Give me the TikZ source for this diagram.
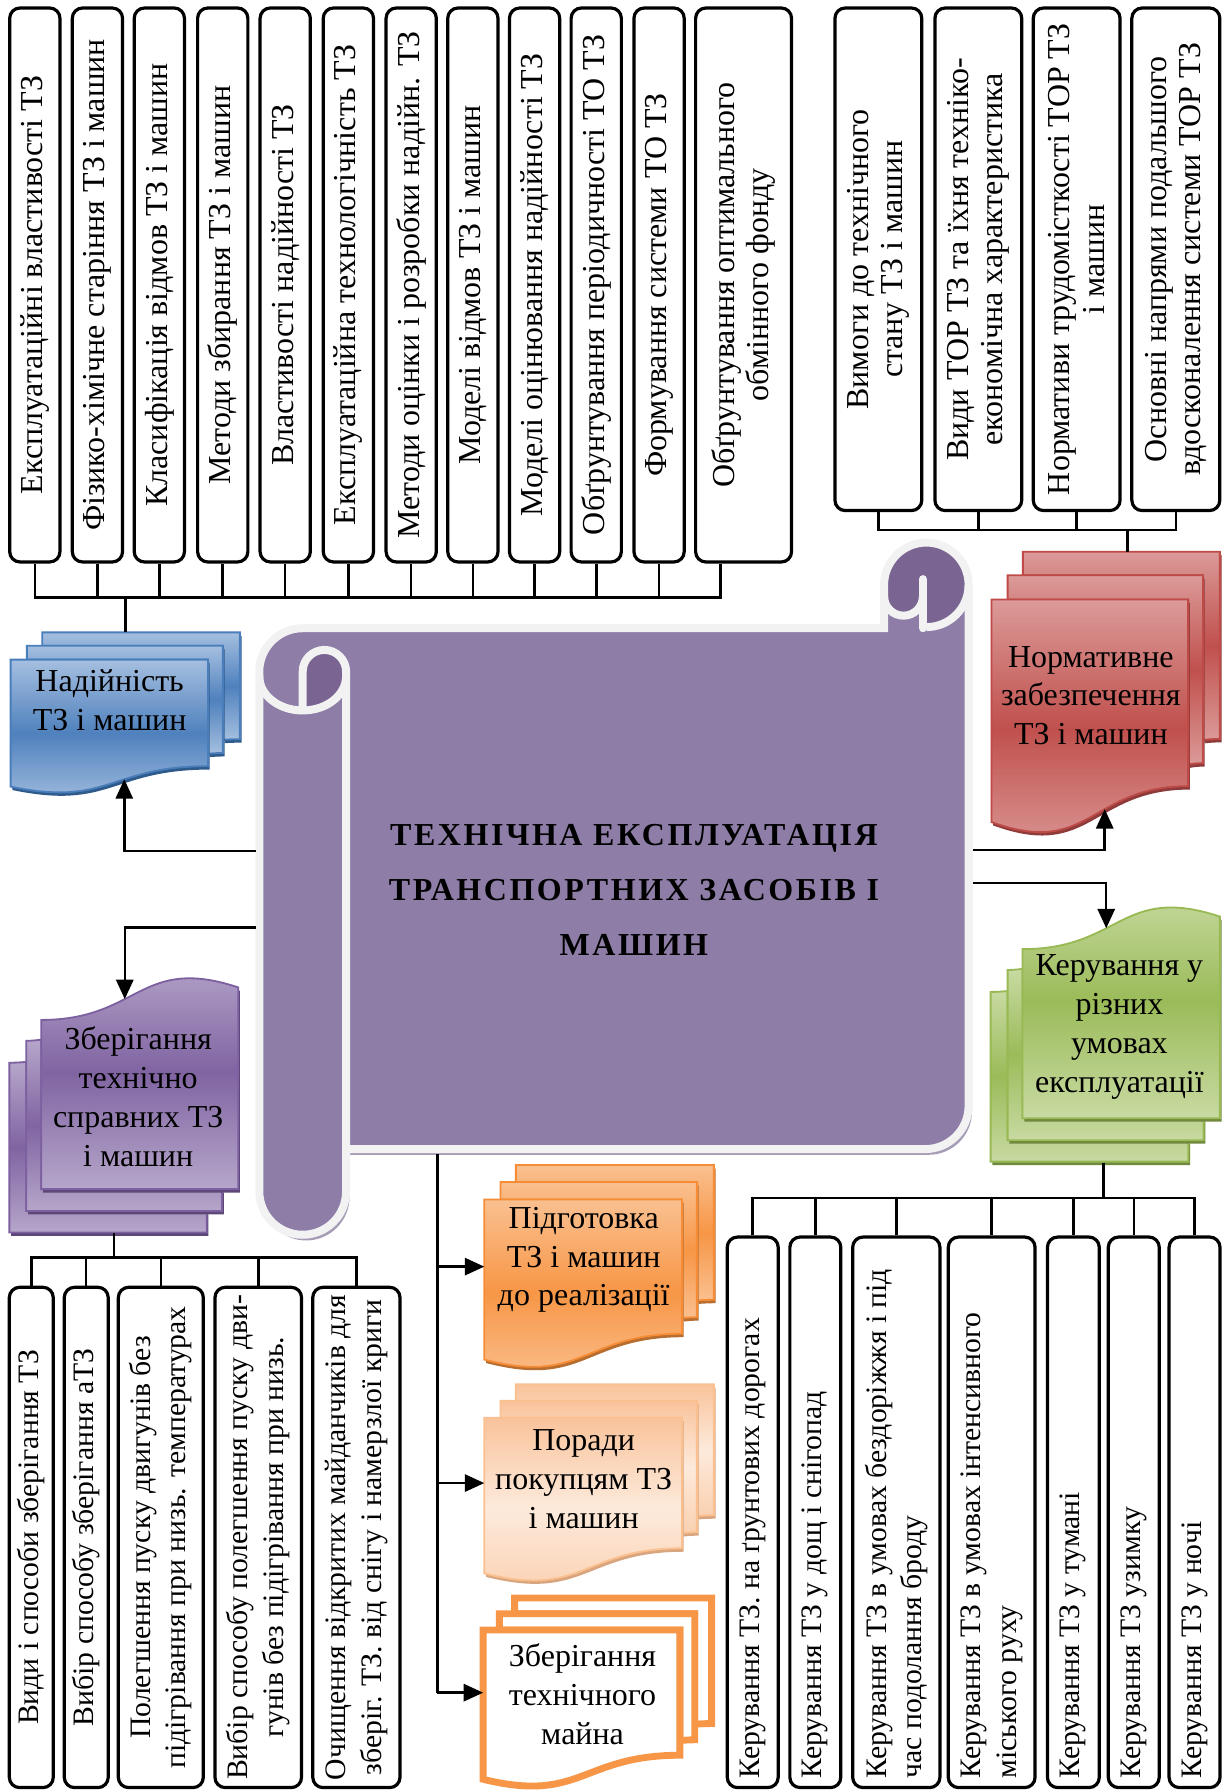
\documentclass[tikz,border=0pt]{standalone}
\usepackage{fontspec}
\setmainfont{Liberation Serif}
\newfontfamily\titlefam[LetterSpace=8]{Liberation Serif}
\usetikzlibrary{arrows.meta}

\definecolor{scrollbody}{HTML}{8D7DA7}
\definecolor{scrolldark}{HTML}{7A6592}
\definecolor{scrolledge}{HTML}{F2F2F2}
\definecolor{scrollshade}{HTML}{A69CB5}
\definecolor{bluelt}{HTML}{A5BFE0}
\definecolor{bluemid}{HTML}{4F81BD}
\definecolor{blueedge}{HTML}{4A7EBB}
\definecolor{blueshd}{HTML}{2F5B8C}
\definecolor{redlt}{HTML}{DB9A98}
\definecolor{redmid}{HTML}{C0504D}
\definecolor{rededge}{HTML}{BE4B48}
\definecolor{redshd}{HTML}{8E3B39}
\definecolor{violt}{HTML}{B6A6CA}
\definecolor{viomid}{HTML}{8064A2}
\definecolor{vioedge}{HTML}{7D60A0}
\definecolor{vioshd}{HTML}{5C4776}
\definecolor{greenlt}{HTML}{C8DAA2}
\definecolor{greenmid}{HTML}{9BBB59}
\definecolor{greenedge}{HTML}{98B954}
\definecolor{greenshd}{HTML}{71893F}
\definecolor{orlt}{HTML}{FAC090}
\definecolor{ormid}{HTML}{F79646}
\definecolor{oredge}{HTML}{F68C36}
\definecolor{orshd}{HTML}{B66D2F}
\definecolor{paletop}{HTML}{F9C39B}
\definecolor{palemid}{HTML}{FDEADB}
\definecolor{palebot}{HTML}{FAD0B0}
\definecolor{paleshd}{HTML}{D9A57E}

\newcommand{\cellfont}{\fontsize{14}{15}\selectfont}
\newcommand{\smallcellfont}{\fontsize{13}{15.5}\selectfont}
\newcommand{\docfont}{\fontsize{14}{17}\selectfont}
\newcommand{\titlefont}{\titlefam\bfseries\fontsize{14}{24}\selectfont}

\tikzset{
  bluedoc/.style={draw=blueedge,line width=0.8pt,top color=bluelt,bottom color=bluelt,middle color=bluemid},
  bluedoc shadow/.style={fill=blueshd},
  reddoc/.style={draw=rededge,line width=0.8pt,top color=redlt,bottom color=redlt,middle color=redmid},
  reddoc shadow/.style={fill=redshd},
  violetdoc/.style={draw=vioedge,line width=0.8pt,top color=violt,bottom color=violt,middle color=viomid},
  violetdoc shadow/.style={fill=vioshd},
  greendoc/.style={draw=greenedge,line width=0.8pt,top color=greenlt,bottom color=greenlt,middle color=greenmid},
  greendoc shadow/.style={fill=greenshd},
  orangedoc/.style={draw=oredge,line width=0.8pt,top color=orlt,bottom color=orlt,middle color=ormid},
  orangedoc shadow/.style={fill=orshd},
  paledoc/.style={draw=orlt,line width=0.8pt,top color=paletop,bottom color=palebot,middle color=palemid},
  paledoc shadow/.style={fill=paleshd},
  framedoc/.style={draw=ormid,line width=3pt,fill=white},
  framedoc shadow/.style={},
  scrollline/.style={draw=scrolledge,line width=3.5pt}
}

% sheets of the stacked document, in the unit square
\newcommand{\backsheet}{(0.1376,0.084) -- (0.1376,0) -- (1,0) -- (1,0.6663)
  .. controls (0.963,0.6663) and (0.9259,0.6698) .. (0.9259,0.6698) -- (0.9259,0.084) -- cycle}
\newcommand{\midsheet}{(0.0709,0.1701) -- (0.0709,0.084) -- (0.9259,0.084) -- (0.9259,0.7524)
  .. controls (0.8934,0.7524) and (0.8609,0.757) .. (0.8609,0.757) -- (0.8609,0.1701) -- cycle}
\newcommand{\frontsheet}{(0,0.9621) .. controls (0.4305,1.0899) and (0.4305,0.8344) .. (0.8609,0.8344)
  -- (0.8609,0.1701) -- (0,0.1701) -- cycle}

% #1 name, #2 x, #3 y, #4 width, #5 height, #6 look, #7 turned (0/1)
\newcommand{\docstack}[7]{%
  \ifnum#7=0\relax
    \tikzset{docframe/.style={shift={(#2,#3)},xscale=#4,yscale=#5}}\def\docsgn{1}%
  \else
    \tikzset{docframe/.style={shift={(#2+#4,#3+#5)},xscale=-#4,yscale=-#5}}\def\docsgn{-1}%
  \fi
  \begin{scope}[docframe]
    \path[#6 shadow,shift={(\docsgn*1.5/#4,\docsgn*3/#5)}] \backsheet;
    \path[#6] \backsheet;
    \path[#6 shadow,shift={(\docsgn*1.5/#4,\docsgn*3/#5)}] \midsheet;
    \path[#6] \midsheet;
    \path[#6 shadow,shift={(\docsgn*1.5/#4,\docsgn*3/#5)}] \frontsheet;
    \path[#6] \frontsheet;
    \path (0,0.9621) .. controls (0.4305,1.0899) and (0.4305,0.8344) .. (0.8609,0.8344)
      coordinate[pos=0.6] (#1-in);
  \end{scope}
  \path (#2,#3) node[anchor=north west,inner sep=0pt,minimum width=#4*0.5pt,
    minimum height=#5*0.5pt] (#1) {};
}

% outline of the scroll
\newcommand{\scrolloutline}{(227,588) arc[start angle=180,end angle=270,radius=38] -- (774,550) -- (774,512)
  arc[start angle=180,end angle=360,radius=37] -- (848,968) arc[start angle=0,end angle=90,radius=38]
  -- (303,1006) -- (303,1043) arc[start angle=0,end angle=180,radius=38] -- cycle}

\begin{document}
\begin{tikzpicture}[x=0.5pt,y=-0.5pt,
  conn/.style={line width=1.1pt},
  arr/.style={conn,-{Triangle[length=8.5pt,width=7.5pt]}},
  vbox/.style={draw,line width=1.4pt,rounded corners=4.5pt,fill=white,rotate=90,
    inner sep=2pt,font=\cellfont},
  topbox/.style={vbox,minimum width=242.5pt,minimum height=22pt,align=center},
  normbox/.style={vbox,minimum width=220pt,minimum height=38pt,align=center},
  keepbox/.style={vbox,minimum width=219pt,minimum height=19.25pt,align=center,font=\smallcellfont},
  drivebox/.style={vbox,minimum width=241pt,minimum height=22.3pt,text width=233pt,
    inner xsep=4pt,align=flush left,font=\smallcellfont},
  doctext/.style={font=\docfont,align=center,inner sep=0pt}]
\useasboundingbox (0,0) rectangle (1069,1568);

% the scroll
\fill[scrollshade,shift={(3,5)}] \scrolloutline;
\fill[scrollbody] \scrolloutline;
\fill[scrolldark] (265,621) -- (265,588) arc[start angle=180,end angle=360,radius=19]
  -- (303,592) arc[start angle=0,end angle=90,x radius=38,y radius=30] -- cycle;
\fill[scrolldark] (811,512) circle[radius=37];
\fill[scrollbody] (774,522) arc[start angle=180,end angle=0,radius=17] -- (808,550) -- (774,550) -- cycle;
\path[scrollline] \scrolloutline;
\draw[scrollline] (227,592) arc[start angle=180,end angle=0,x radius=38,y radius=30];
\draw[scrollline] (265,622) -- (265,588) arc[start angle=180,end angle=360,radius=19] -- (303,1006);
\draw[scrollline] (848,512) arc[start angle=0,end angle=90,radius=37];
\draw[scrollline] (774,522) arc[start angle=180,end angle=0,radius=17];
\draw[scrollline,line cap=round] (808,507) -- (808,550);
\node[font=\titlefont,align=center] (title) at (555,779)
  {ТЕХНІЧНА ЕКСПЛУАТАЦІЯ\\ТРАНСПОРТНИХ ЗАСОБІВ І\\МАШИН};

% stacked documents
\docstack{nad}{9.3}{553.6}{200.7}{140.4}{bluedoc}{0}
\docstack{norm}{868}{483}{200}{246}{reddoc}{0}
\docstack{keep}{8.2}{856}{200.4}{223}{violetdoc}{1}
\docstack{ctrl}{867.3}{794}{200.7}{223}{greendoc}{1}
\docstack{prep}{424}{1020}{201}{177}{orangedoc}{0}
\docstack{tips}{424}{1212}{201}{172}{paledoc}{0}
\docstack{stor}{423}{1399}{200}{165}{framedoc}{0}

\node[doctext] (nadtxt) at (96,613) {Надійність\\ТЗ і машин};
\node[doctext] (normtxt) at (955,609) {Нормативне\\забезпечення\\ТЗ і машин};
\node[doctext] (keeptxt) at (121,960) {Зберігання\\технічно\\справних ТЗ\\і машин};
\node[doctext] (ctrltxt) at (980,899) {Керування у\\різних\\умовах\\експлуатації};
\node[doctext] (preptxt) at (511,1103) {Підготовка\\ТЗ і машин\\до реалізації};
\node[doctext] (tipstxt) at (511,1295) {Поради\\покупцям ТЗ\\і машин};
\node[doctext] (stortxt) at (510,1483) {Зберігання\\технічного\\майна};

% top left row
\node[topbox] (tl1) at (30.5,249.5) {Експлуатаційні властивості ТЗ};
\node[topbox] (tl2) at (85.3,249.5) {Фізико-хімічне старіння ТЗ і машин};
\node[topbox] (tl3) at (139.5,249.5) {Класифікація відмов ТЗ і машин};
\node[topbox] (tl4) at (195,249.5) {Методи збирання ТЗ і машин};
\node[topbox] (tl5) at (249.7,249.5) {Властивості надійності ТЗ};
\node[topbox] (tl6) at (305,249.5) {Експлуатаційна технологічність ТЗ};
\node[topbox] (tl7) at (360,249.5) {Методи оцінки і розробки надійн. ТЗ};
\node[topbox] (tl8) at (414,249.5) {Моделі відмов ТЗ і машин};
\node[topbox] (tl9) at (468,249.5) {Моделі оцінювання надійності ТЗ};
\node[topbox] (tl10) at (522,249.5) {Обґрунтування періодичності ТО ТЗ};
\node[topbox] (tl11) at (577,249.5) {Формування системи ТО ТЗ};
\node[topbox,minimum height=42pt] (tl12) at (651,249.5) {Обґрунтування оптимального\\обмінного фонду};

% top right row
\node[normbox] (tr1) at (769,227) {Вимоги до технічного\\стану ТЗ і машин};
\node[normbox] (tr2) at (856.5,227) {Види ТОР ТЗ та їхня техніко-\\економічна характеристика};
\node[normbox] (tr3) at (942.6,227) {Нормативи трудомісткості ТОР ТЗ\\і машин};
\node[normbox,minimum height=38.5pt] (tr4) at (1029.4,227) {Основні напрями подальшого\\вдосконалення системи ТОР ТЗ};

% bottom left row
\node[keepbox] (bl1) at (27.4,1346) {Види і способи зберігання ТЗ};
\node[keepbox] (bl2) at (75.5,1346) {Вибір способу зберігання аТЗ};
\node[keepbox,minimum height=37.2pt] (bl3) at (140.8,1346) {Полегшення пуску двигунів без\\підігрівання при низь. температурах};
\node[keepbox,minimum height=37.9pt] (bl4) at (226.1,1346) {Вибір способу полегшення пуску дви-\\гунів без підігрівання при низь.};
\node[keepbox,minimum height=38.2pt] (bl5) at (312,1346) {Очищення відкритих майданчиків для\\зберіг. ТЗ. від снігу і намерзлої криги};

% bottom right row
\node[drivebox] (br1) at (659,1324) {Керування ТЗ. на ґрунтових дорогах};
\node[drivebox] (br2) at (713.8,1324) {Керування ТЗ у дощ і снігопад};
\node[drivebox,minimum height=38.2pt] (br3) at (784.7,1324) {Керування ТЗ в умовах бездоріжжя і під\\час подолання броду};
\node[drivebox,minimum height=38pt] (br4) at (868.2,1324) {Керування ТЗ в умовах інтенсивного\\міського руху};
\node[drivebox,minimum height=22.7pt] (br5) at (939.7,1324) {Керування ТЗ у тумані};
\node[drivebox] (br6) at (992.6,1324) {Керування ТЗ узимку};
\node[drivebox] (br7) at (1045.8,1324) {Керування ТЗ у ночі};

% buses
\coordinate (tbus) at (110,523);
\coordinate (rbus) at (987,464);
\coordinate (kbus) at (100,1101);
\coordinate (cbus) at (966,1049);
\coordinate (tl12foot) at ([xshift=-10pt]tl12.west);

\draw[conn] (tl1.west) -- (tl1.west |- tbus) -- (tl12foot |- tbus) -- (tl12foot);
\foreach \b in {tl2,tl3,tl4,tl5,tl6,tl7,tl8,tl9,tl10,tl11}
  \draw[conn] (\b.west) -- (\b.west |- tbus);
\draw[conn] (tbus) -- (tbus |- nad.north);

\draw[conn] (tr1.west) -- (tr1.west |- rbus) -- (tr4.west |- rbus) -- (tr4.west);
\foreach \b in {tr2,tr3}
  \draw[conn] (\b.west) -- (\b.west |- rbus);
\draw[conn] (rbus) -- (rbus |- norm.north);

\draw[conn] (bl1.east) -- (bl1.east |- kbus) -- (bl5.east |- kbus) -- (bl5.east);
\foreach \b in {bl2,bl3,bl4}
  \draw[conn] (\b.east) -- (\b.east |- kbus);
\draw[conn] (kbus |- keep.south) -- (kbus);

\draw[conn] (br1.east) -- (br1.east |- cbus) -- (br7.east |- cbus) -- (br7.east);
\foreach \b in {br2,br3,br4,br5,br6}
  \draw[conn] (\b.east) -- (\b.east |- cbus);
\draw[conn] (cbus |- ctrl.south) -- (cbus);

% arrows from the scroll
\coordinate (sl1) at (224,745);
\coordinate (sl2) at (224,812);
\coordinate (sr1) at (852,744);
\coordinate (sr2) at (852,773);
\coordinate (sb) at (383,1010);
\draw[arr] (sl1) -| (nad-in);
\draw[arr] (sl2) -| (keep-in);
\draw[arr] (sr1) -| (norm-in);
\draw[arr] (sr2) -| (ctrl-in);
\draw[conn] (sb) -- (sb |- stor.west);
\draw[arr] (sb |- prep.west) -- (prep.west);
\draw[arr] (sb |- tips.west) -- (tips.west);
\draw[arr] (sb |- stor.west) -- (stor.west);
\end{tikzpicture}
\end{document}
